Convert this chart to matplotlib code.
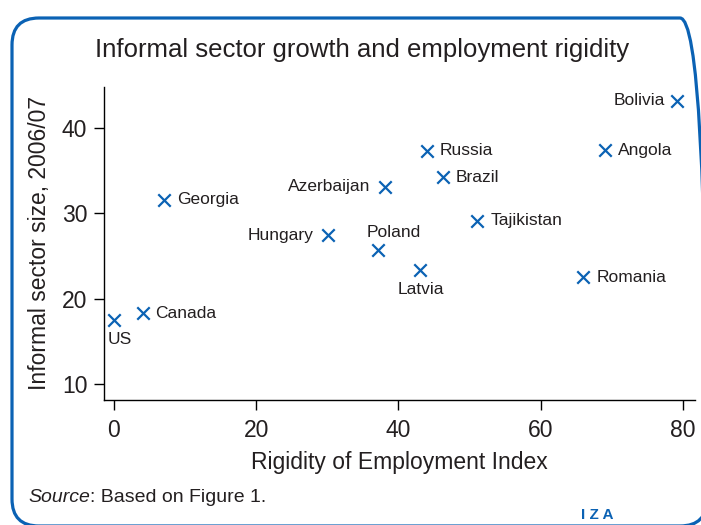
import matplotlib
matplotlib.use('Agg')
import matplotlib.pyplot as plt
from matplotlib.patches import FancyBboxPatch

plt.rcParams['font.family'] = ['Liberation Sans', 'DejaVu Sans']

# data
countries = ['US', 'Canada', 'Georgia', 'Hungary', 'Azerbaijan', 'Poland', 'Latvia',
             'Russia', 'Brazil', 'Tajikistan', 'Romania', 'Angola', 'Bolivia']
rigidity = [0, 4.1, 7.0, 30.1, 38.1, 37.1, 43.0, 44.0, 46.2, 51.1, 66.0, 69.1, 79.1]
informal = [17.5, 18.3, 31.6, 27.4, 33.1, 25.7, 23.3, 37.3, 34.2, 29.1, 22.5, 37.4, 43.2]
# label placement: offset in pixels + alignment
label_pos = {
    'US': ((6, -20), 'center'),
    'Canada': ((12, 0), 'left'),
    'Georgia': ((13, 0), 'left'),
    'Hungary': ((-15, 0), 'right'),
    'Azerbaijan': ((-15, 0), 'right'),
    'Poland': ((16, 17), 'center'),
    'Latvia': ((1, -19), 'center'),
    'Russia': ((13, 0), 'left'),
    'Brazil': ((13, 0), 'left'),
    'Tajikistan': ((13, 0), 'left'),
    'Romania': ((13, 0), 'left'),
    'Angola': ((13, 0), 'left'),
    'Bolivia': ((-12, 0), 'right'),
}

blue = '#0b62b4'
txt = '#231f20'

fig = plt.figure(figsize=(7.01, 5.25), dpi=100)
ax = fig.add_axes([104/701, 1 - 400/525, 591/701, 313/525])

ax.scatter(rigidity, informal, marker='x', s=80, color=blue, linewidths=1.6, zorder=3)
for c, xv, yv in zip(countries, rigidity, informal):
    off, ha = label_pos[c]
    ax.annotate(c, (xv, yv), xytext=off, textcoords='offset pixels',
                ha=ha, va='center', fontsize=12.5, color=txt)

ax.set_xlim(-1.4, 81.7)
ax.set_ylim(8.1, 44.8)
ax.set_xticks([0, 20, 40, 60, 80])
ax.set_yticks([10, 20, 30, 40])
ax.spines['top'].set_visible(False)
ax.spines['right'].set_visible(False)
for s in ['left', 'bottom']:
    ax.spines[s].set_linewidth(1.0)
ax.tick_params(length=7, width=1.0, labelsize=16.5, labelcolor=txt, pad=5)
ax.tick_params(axis='x', pad=7)
ax.set_xlabel('Rigidity of Employment Index', fontsize=16.5, color=txt, labelpad=6)
ax.set_ylabel('Informal sector size, 2006/07', fontsize=16.5, color=txt, labelpad=8)

fig.text(0.516, 1 - 50/525, 'Informal sector growth and employment rigidity',
         ha='center', va='center', fontsize=18.5, color=txt)

# source line: italic word then plain text right after it
src = fig.text(28/701, 1 - 497/525, 'Source', ha='left', va='center',
               fontsize=14, color=txt, style='italic')
fig.canvas.draw()
bb = src.get_window_extent()
fig.text(bb.x1 / fig.bbox.width, 1 - 497/525, ': Based on Figure 1.', ha='left',
         va='center', fontsize=14, color=txt)
fig.text(597/701, 1 - 515/525, 'I Z A', ha='center', va='center', fontsize=11,
         color=blue, fontweight='bold')

# rounded blue frame around the figure
frame = FancyBboxPatch((12/100, -1/100), 695/100, 508/100,
                       boxstyle='round,pad=0,rounding_size=0.27',
                       transform=fig.dpi_scale_trans, fill=False,
                       edgecolor=blue, linewidth=2.3)
fig.patches.append(frame)

fig.savefig('out.png', dpi=100)
